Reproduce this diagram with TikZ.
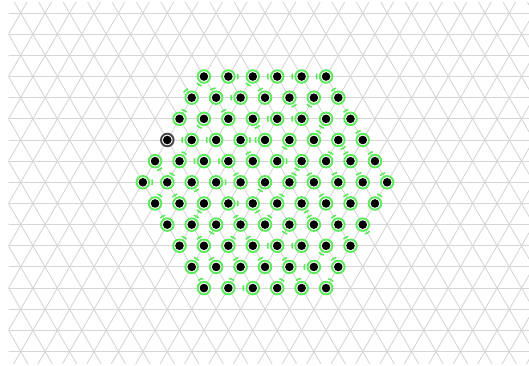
\documentclass[tikz,border=0pt]{standalone}
\definecolor{gline}{RGB}{214,214,214}
\definecolor{lgreen}{RGB}{90,234,90}
\definecolor{dgray}{RGB}{70,70,70}
\tikzset{
  gridline/.style={draw=gline,line width=0.9pt},
  gdot/.style={circle,draw=lgreen,line width=1.9pt,fill=white,minimum size=12.6pt,inner sep=0pt},
  graydot/.style={circle,draw=dgray,line width=1.9pt,fill=white,minimum size=12.6pt,inner sep=0pt},
  tickmark/.style={draw=lgreen,line width=1.6pt},
}
\newcommand\hexrow[3]{%
  \pgfmathtruncatemacro\nn{11-abs(#1-5)}%
  \foreach \ang [count=\i from #2] in {#3} {
    \pgfmathsetmacro\xx{265+(\i-(\nn-1)/2)*\a}
    \pgfmathsetmacro\yy{-(182.3+(#1-5)*\h)}
    \node[gdot] (d#1-\i) at (\xx,\yy) {};
    \fill[black] (d#1-\i.center) circle[radius=4.3];
    \draw[tickmark] (d#1-\i.center) ++(\ang-17:9.6) arc[start angle=\ang-17, end angle=\ang+17, radius=9.6];
  }%
}
\begin{document}
\begin{tikzpicture}[x=1pt,y=1pt]
\useasboundingbox (0,0) rectangle (529,-366);
\def\a{24.43}
\pgfmathsetmacro\h{\a*sqrt(3)/2}
\begin{scope}
  \clip (8.5,-3) rectangle (530,-363);
  \foreach \k in {-9,...,9} {
    \draw[gridline] (0,{-(182.3+\k*\h)}) -- (530,{-(182.3+\k*\h)});
  }
  \foreach \m in {-30,...,30} {
    \draw[gridline] ({265+\m*\a},-182.3) ++(240:450) -- ++(60:900);
    \draw[gridline] ({265+\m*\a},-182.3) ++(300:450) -- ++(120:900);
  }
\end{scope}
\hexrow{0}{0}{240,0,240,180,180,180}
\hexrow{1}{0}{130,110,180,120,300,240,120}
\hexrow{2}{0}{60,240,120,300,180,180,240,120}
\hexrow{3}{1}{180,180,0,180,240,60,300,120}
\hexrow{4}{0}{300,60,180,180,120,0,240,60,120,120}
\hexrow{5}{0}{0,60,300,0,120,240,60,120,115,115,120}
\hexrow{6}{0}{60,120,240,0,300,60,300,120,120,60}
\hexrow{7}{0}{120,60,240,120,60,240,120,120,300}
\hexrow{8}{0}{60,120,60,120,180,180,240,120}
\hexrow{9}{0}{60,120,120,120,120,180,120}
\hexrow{10}{0}{110,70,180,60,110,60}
\pgfmathsetmacro\gx{265-4*\a}
\pgfmathsetmacro\gy{-(182.3-2*\h)}
\node[graydot] (d3-0) at (\gx,\gy) {};
\fill[black] (d3-0.center) circle[radius=4.3];
\end{tikzpicture}
\end{document}
